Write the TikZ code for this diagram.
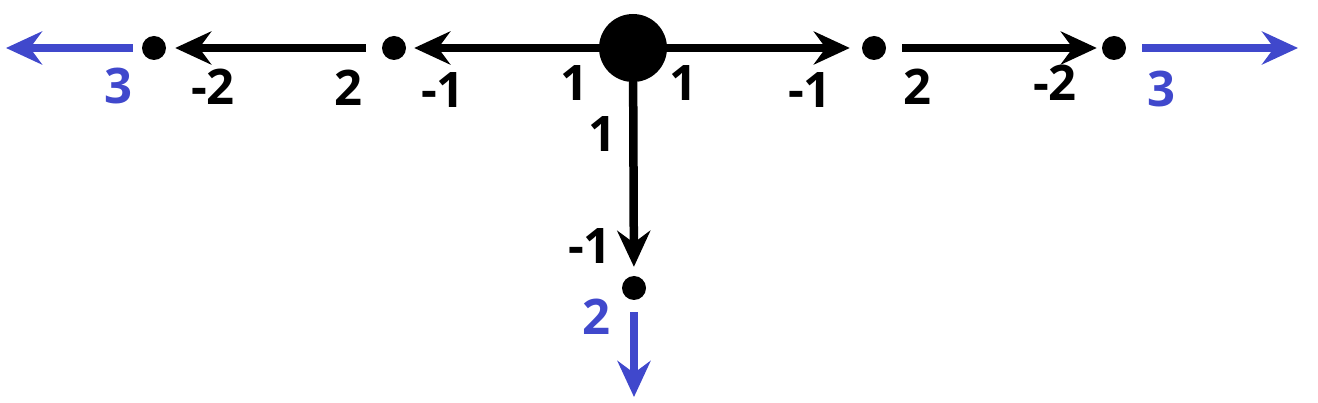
\documentclass[tikz,border=0pt]{standalone}
\usepackage{fontspec}
\setmainfont{Open Sans}
\usetikzlibrary{arrows.meta}
\definecolor{myblue}{RGB}{64,72,204}
\tikzset{
  dot/.style={circle,fill=black,inner sep=0pt,minimum size=24pt},
  bigdot/.style={circle,fill=black,inner sep=0pt,minimum size=68pt},
  arr/.style={line width=8.5pt,-{Stealth[length=36pt,width=33pt,inset=12pt]}},
  lbl/.style={inner sep=0pt,font=\fontsize{49}{56}\selectfont\bfseries},
  blbl/.style={lbl,text=myblue},
}
\begin{document}
\begin{tikzpicture}[x=1pt,y=-1pt]
\useasboundingbox (0,0) rectangle (1318,403);
% nodes
\node[bigdot] (c) at (633,48) {};
\node[dot] (d1) at (154,48) {};
\node[dot] (d2) at (394,48) {};
\node[dot] (d3) at (874,48) {};
\node[dot] (d4) at (1114,48) {};
\node[dot] (d5) at (634,288) {};
\coordinate (eL) at (6,48);
\coordinate (eR) at (1298,48);
\coordinate (eD) at (634,397);
% connectors
\draw[arr,shorten >=8pt] (c) -- (d2);
\draw[arr,shorten <=16pt,shorten >=9pt] (d2) -- (d1);
\draw[arr,myblue,shorten <=9pt] (d1) -- (eL);
\draw[arr,shorten >=12pt] (c) -- (d3);
\draw[arr,shorten <=16pt,shorten >=5pt] (d3) -- (d4);
\draw[arr,myblue,shorten <=16pt] (d4) -- (eR);
\draw[arr,shorten >=9pt] (c) -- (d5);
\draw[arr,myblue,shorten <=12pt] (d5) -- (eD);
% labels
\node[blbl] (l1) at (118,86) {3};
\node[lbl] (l2) at (213,87) {-2};
\node[lbl] (l3) at (348,88) {2};
\node[lbl] (l4) at (443,90) {-1};
\node[lbl] (l5) at (574,83) {1};
\node[lbl] (l6) at (683,83) {1};
\node[lbl] (l7) at (810,90) {-1};
\node[lbl] (l8) at (917,87) {2};
\node[lbl] (l9) at (1055,83) {-2};
\node[blbl] (l10) at (1161,89) {3};
\node[lbl] (l11) at (602,134) {1};
\node[lbl] (l12) at (590,246) {-1};
\node[blbl] (l13) at (596,317) {2};
\end{tikzpicture}
\end{document}
